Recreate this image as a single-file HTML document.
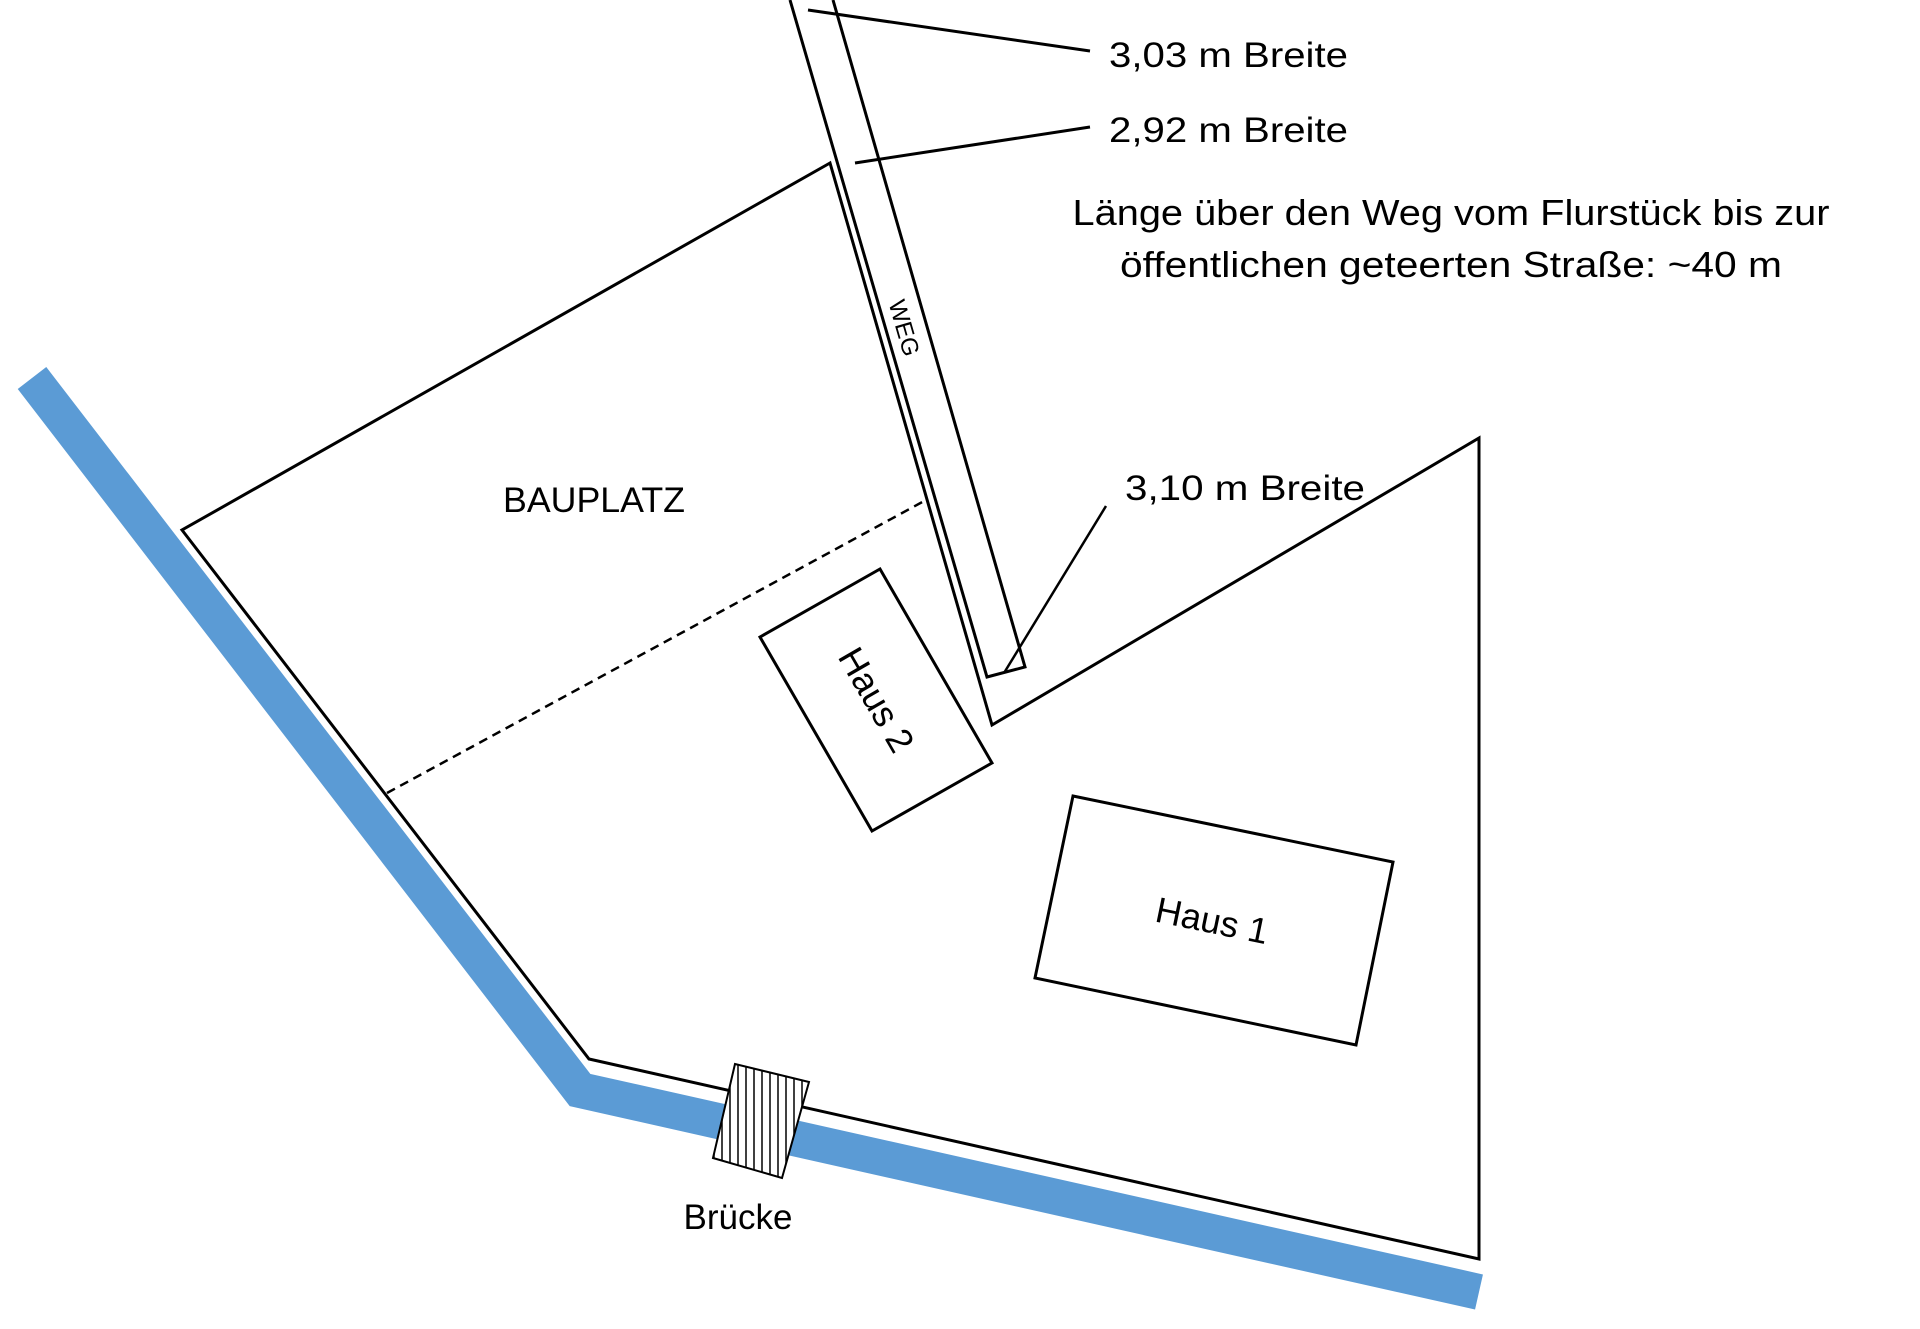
<!DOCTYPE html>
<html><head><meta charset="utf-8"><style>
html,body{margin:0;padding:0;background:#fff;}
svg{display:block;}
text{font-family:"Liberation Sans",sans-serif;fill:#000;}
</style></head><body>
<svg width="1920" height="1329" viewBox="0 0 1920 1329" xmlns="http://www.w3.org/2000/svg">
<defs>
<pattern id="hatch" patternUnits="userSpaceOnUse" width="8" height="8">
<rect width="8" height="8" fill="#fff"/><line x1="2" y1="0" x2="2" y2="8" stroke="#000" stroke-width="1.5"/>
</pattern>
</defs>
<!-- river -->
<polyline points="32,378 580,1090 1479,1292" fill="none" stroke="#5b9bd5" stroke-width="36" stroke-linejoin="miter"/>
<!-- plot -->
<polygon points="830,163 182,530 589,1059 1479,1259 1479,438 992,725" fill="none" stroke="#000" stroke-width="3"/>
<!-- weg -->
<polyline points="790,0 987,677 1025,667 833,0" fill="none" stroke="#000" stroke-width="3"/>
<!-- dashed -->
<line x1="387" y1="793" x2="926" y2="500" stroke="#000" stroke-width="2.5" stroke-dasharray="9,6"/>
<!-- houses -->
<polygon points="760,637 880,569 992,763 872,831" fill="#fff" stroke="#000" stroke-width="3"/>
<polygon points="1073,796 1393,862 1356,1045 1035,978" fill="#fff" stroke="#000" stroke-width="3"/>
<!-- bridge -->
<polygon points="735,1064 809,1082 782,1178 713,1158" fill="url(#hatch)" stroke="#000" stroke-width="2"/>
<!-- leaders -->
<line x1="808" y1="10" x2="1090" y2="51" stroke="#000" stroke-width="3"/>
<line x1="855" y1="163" x2="1090" y2="127" stroke="#000" stroke-width="3"/>
<line x1="1004" y1="673" x2="1106" y2="506" stroke="#000" stroke-width="2.5"/>
<!-- text -->
<text x="1109" y="67" font-size="35" textLength="239" lengthAdjust="spacingAndGlyphs">3,03 m Breite</text>
<text x="1109" y="142" font-size="35" textLength="239" lengthAdjust="spacingAndGlyphs">2,92 m Breite</text>
<text x="1451" y="225" font-size="36" text-anchor="middle" textLength="757" lengthAdjust="spacingAndGlyphs">Länge über den Weg vom Flurstück bis zur</text>
<text x="1451" y="277" font-size="36" text-anchor="middle" textLength="662" lengthAdjust="spacingAndGlyphs">öffentlichen geteerten Straße: ~40 m</text>
<text x="1125" y="500" font-size="35" textLength="240" lengthAdjust="spacingAndGlyphs">3,10 m Breite</text>
<text x="594" y="512" font-size="35" text-anchor="middle" textLength="182" lengthAdjust="spacingAndGlyphs">BAUPLATZ</text>
<text x="0" y="0" font-size="24" text-anchor="middle" transform="translate(904,328) rotate(73.8)" dy="8">WEG</text>
<text x="0" y="0" font-size="36" text-anchor="middle" transform="translate(876,700) rotate(60)" dy="12">Haus 2</text>
<text x="0" y="0" font-size="36" text-anchor="middle" transform="translate(1212,921) rotate(11.6)" dy="12">Haus 1</text>
<text x="738" y="1229" font-size="35" text-anchor="middle">Brücke</text>
</svg>
</body></html>
